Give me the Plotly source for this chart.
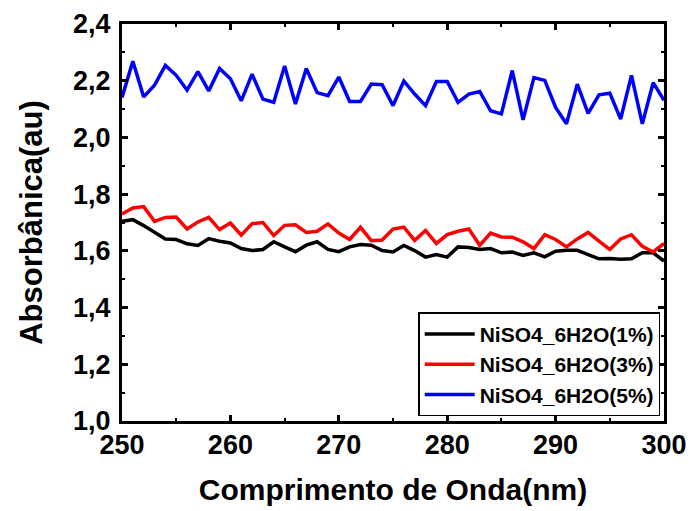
import plotly.graph_objects as go

wavelength = list(range(250, 301))

abs_1 = [1.704, 1.710, 1.689, 1.665, 1.642, 1.640, 1.625, 1.619, 1.643, 1.634,
         1.628, 1.608, 1.601, 1.605, 1.632, 1.614, 1.597, 1.620, 1.632, 1.605,
         1.597, 1.614, 1.622, 1.620, 1.601, 1.596, 1.619, 1.601, 1.578, 1.587,
         1.578, 1.614, 1.612, 1.605, 1.608, 1.593, 1.596, 1.584, 1.593, 1.579,
         1.599, 1.602, 1.602, 1.587, 1.572, 1.573, 1.570, 1.572, 1.593, 1.593,
         1.564]

abs_3 = [1.730, 1.751, 1.756, 1.704, 1.718, 1.719, 1.677, 1.702, 1.718, 1.675,
         1.698, 1.655, 1.696, 1.700, 1.654, 1.690, 1.692, 1.665, 1.669, 1.695,
         1.663, 1.640, 1.683, 1.636, 1.638, 1.677, 1.684, 1.637, 1.672, 1.626,
         1.657, 1.669, 1.677, 1.619, 1.663, 1.649, 1.648, 1.632, 1.608, 1.657,
         1.640, 1.614, 1.642, 1.665, 1.634, 1.605, 1.642, 1.657, 1.616, 1.596,
         1.626]

abs_5 = [2.141, 2.269, 2.143, 2.184, 2.254, 2.219, 2.167, 2.232, 2.164, 2.243,
         2.207, 2.129, 2.223, 2.135, 2.124, 2.252, 2.118, 2.243, 2.158, 2.147,
         2.213, 2.127, 2.127, 2.188, 2.186, 2.112, 2.199, 2.153, 2.112, 2.197,
         2.197, 2.124, 2.153, 2.162, 2.094, 2.083, 2.236, 2.062, 2.211, 2.201,
         2.106, 2.048, 2.188, 2.085, 2.150, 2.156, 2.065, 2.219, 2.048, 2.193,
         2.131]

series_names = ["NiSO4_6H2O(1%)", "NiSO4_6H2O(3%)", "NiSO4_6H2O(5%)"]
series_colors = ["#000000", "#ff0000", "#0000ff"]

fig = go.Figure()
for name, vals, col in zip(series_names, [abs_1, abs_3, abs_5], series_colors):
    fig.add_trace(go.Scatter(x=wavelength, y=vals, mode="lines", name=name,
                             line=dict(color=col, width=3.5)))

font_family = "Liberation Sans, Arial, sans-serif"

axis_common = dict(
    showline=True, linecolor="black", linewidth=3, mirror="ticks",
    ticks="inside", ticklen=6, tickwidth=2.5, tickcolor="black",
    showgrid=False, zeroline=False, automargin=False,
    tickfont=dict(family=font_family, size=27, color="black", weight="bold"),
)

fig.update_layout(
    width=691, height=511,
    margin=dict(l=122, r=27, t=24, b=90),
    paper_bgcolor="white", plot_bgcolor="white",
    separators=",.",
    showlegend=True,
    legend=dict(
        x=0.993, y=0.012, xanchor="right", yanchor="bottom",
        bordercolor="black", borderwidth=1.5, bgcolor="white",
        font=dict(family=font_family, size=21, color="black", weight="bold"),
        tracegroupgap=0, itemwidth=50,
    ),
    xaxis=dict(
        range=[250, 300], tickvals=[250, 260, 270, 280, 290, 300],
        minor=dict(ticks="inside", ticklen=3, tickwidth=2, tickcolor="black", dtick=5),
        title=dict(text="Comprimento de Onda(nm)", standoff=20,
                   font=dict(family=font_family, size=30, color="black", weight="bold")),
        ticklabelstandoff=-2,
        **axis_common,
    ),
    yaxis=dict(
        range=[1.0, 2.4], tickvals=[1.0, 1.2, 1.4, 1.6, 1.8, 2.0, 2.2, 2.4],
        tickformat=".1f",
        minor=dict(ticks="inside", ticklen=3, tickwidth=2, tickcolor="black", dtick=0.1),
        title=dict(text="Absorbânica(au)", standoff=22,
                   font=dict(family=font_family, size=31, color="black", weight="bold")),
        ticklabelstandoff=3,
        **axis_common,
    ),
)

fig.write_html("out.html")
